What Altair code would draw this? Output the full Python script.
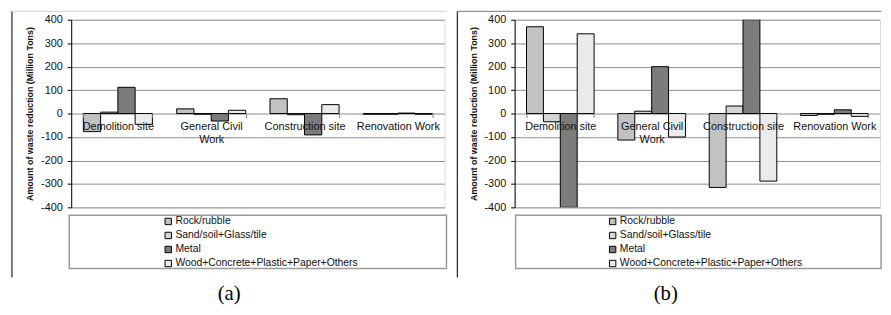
import altair as alt
import pandas as pd

categories = ["Demolition site", "General Civil Work", "Construction site", "Renovation Work"]
series = ["Rock/rubble", "Sand/soil+Glass/tile", "Metal", "Wood+Concrete+Plastic+Paper+Others"]
colors = ["#c2c2c2", "#d6d6d6", "#7c7c7c", "#ebebeb"]

a_rock = [-77, 20, 63, -3]
a_sand = [6, -3, -5, -3]
a_metal = [112, -32, -91, 2]
a_wood = [-46, 14, 38, -3]

b_rock = [370, -113, -315, -8]
b_sand = [-35, 10, 32, -3]
b_metal = [-400, 200, 400, 16]
b_wood = [340, -100, -288, -12]

y_ticks = [-400, -300, -200, -100, 0, 100, 200, 300, 400]
panel_labels = ["(a)", "(b)"]
y_title = "Amount of waste reduction (Million Tons)"

FONT = "Liberation Sans"


def long_df(rock, sand, metal, wood):
    rows = []
    for s, vals in zip(series, [rock, sand, metal, wood]):
        for c, v in zip(categories, vals):
            rows.append({"category": c, "series": s, "value": v})
    return pd.DataFrame(rows)


one = pd.DataFrame({"k": [0]})


def panel(df, w, frame_x, top_x2, top_color, box_x, box_x2, leg_x, label, label_x):
    bars = alt.Chart(df).mark_bar(stroke="black", strokeWidth=1, clip=True).encode(
        x=alt.X(
            "category:N",
            sort=categories,
            scale=alt.Scale(paddingInner=0.26, paddingOuter=0.13),
            axis=alt.Axis(
                orient="bottom", offset=-95, domain=False, grid=False,
                tickColor="#808080", tickSize=4, tickBand="extent",
                labelFont=FONT, labelFontSize=11, labelColor="#111111",
                labelPadding=3, labelAngle=0, labelLineHeight=13,
                labelExpr="datum.value == 'General Civil Work' ? ['General Civil', 'Work'] : datum.value",
                title=None, zindex=1,
            ),
        ),
        xOffset=alt.XOffset("series:N", sort=series,
                            scale=alt.Scale(paddingInner=0, paddingOuter=0)),
        y=alt.Y(
            "value:Q",
            scale=alt.Scale(domain=[-400, 400], nice=False, zero=True),
            axis=alt.Axis(
                values=y_ticks, title=y_title, titleFont=FONT, titleFontSize=9,
                titleFontWeight="bold", titleColor="#111111", titlePadding=6,
                labelFont=FONT, labelFontSize=11, labelColor="#111111",
                labelExpr="datum.value < 0 ? '-' + abs(datum.value) : '' + datum.value",
                labelPadding=5, tickSize=4, tickColor="black",
                domainColor="black", gridColor="#8c8c8c", gridWidth=1,
            ),
        ),
        fill=alt.Fill(
            "series:N", sort=series,
            scale=alt.Scale(domain=series, range=colors),
            legend=alt.Legend(
                orient="none", legendX=leg_x, legendY=199, title=None,
                symbolType="square", symbolSize=42, symbolStrokeColor="black",
                symbolStrokeWidth=1, labelFont=FONT, labelFontSize=10.5,
                labelColor="#111111", labelOffset=2, rowPadding=3.2,
                labelLimit=400, padding=0,
            ),
        ),
    )
    frame_v = alt.Chart(one).mark_rule(color="#222222", strokeWidth=1.2).encode(
        x=alt.value(frame_x), y=alt.value(-8.5), y2=alt.value(261)
    )
    frame_t = alt.Chart(one).mark_rule(color=top_color, strokeWidth=1).encode(
        x=alt.value(frame_x), x2=alt.value(top_x2), y=alt.value(-8.5)
    )
    box = alt.Chart(one).mark_rect(fill="white", stroke="#9a9a9a", strokeWidth=1.5).encode(
        x=alt.value(box_x), x2=alt.value(box_x2), y=alt.value(198), y2=alt.value(252)
    )
    lab = alt.Chart(pd.DataFrame({"label": [label]})).mark_text(
        font="Liberation Serif", fontSize=21, color="black", baseline="middle"
    ).encode(x=alt.value(label_x), y=alt.value(278), text="label:N")
    return alt.layer(box, frame_v, frame_t, bars, lab).properties(width=w, height=190)


pa = panel(long_df(a_rock, a_sand, a_metal, a_wood), 378, -60, 380, "#d0d0d0",
           -2, 380, 93, panel_labels[0], 160)
pb = panel(long_df(b_rock, b_sand, b_metal, b_wood), 370, -58, 371, "#777777",
           1, 371, 94, panel_labels[1], 153)

chart = (
    alt.hconcat(pa, pb, spacing=71, bounds="flush")
    .resolve_scale(x="independent", y="independent", xOffset="independent", fill="independent")
    .resolve_legend(fill="independent")
    .resolve_axis(x="independent", y="independent")
    .properties(padding={"left": 2, "top": 0, "right": 0, "bottom": 0})
    .configure_view(stroke="#8c8c8c", strokeWidth=1)
    .configure(background="white")
)

chart.save("out.html", embed_options={"renderer": "svg", "actions": False})
